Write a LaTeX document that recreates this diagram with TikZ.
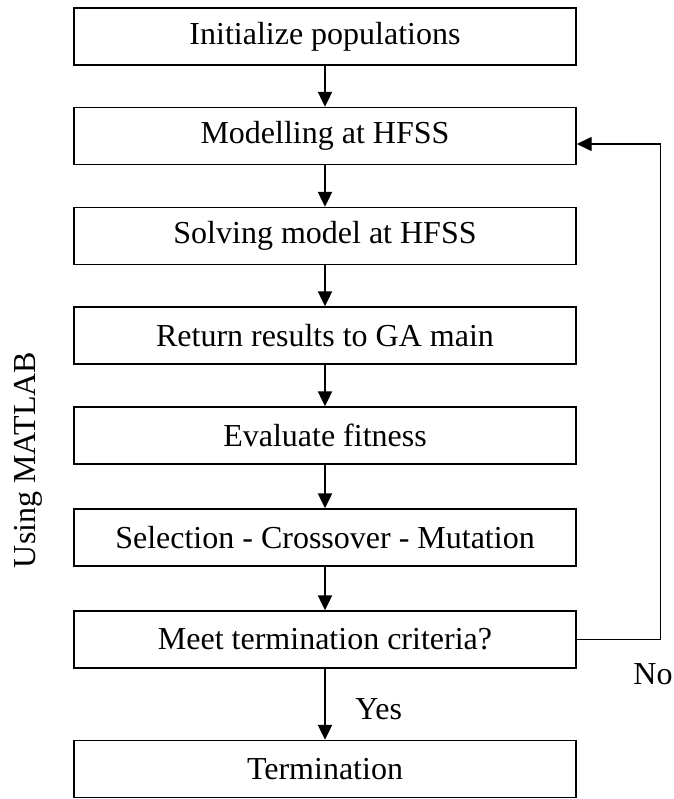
\documentclass[tikz,border=0pt]{standalone}
\usepackage{fontspec}
\setmainfont{Liberation Serif}
\usetikzlibrary{arrows.meta}

\begin{document}
\begin{tikzpicture}[x=1bp, y=-1bp,
        font=\fontsize{32bp}{38bp}\selectfont,
        stage/.style={draw, line width=1.4bp, minimum width=502bp, minimum height=57bp, inner sep=0pt},
        flow/.style={line width=2.2bp, -{Triangle[length=15bp, width=14bp]}}]
        \useasboundingbox (0,0) rectangle (674,799);
        \node[stage] (init) at (325,36.5) {Initialize populations};
        \node[stage] (model) at (325,136) {Modelling at HFSS};
        \node[stage] (solve) at (325,236) {Solving model at HFSS};
        \node[stage] (ret) at (325,335.5) {Return results to GA main};
        \node[stage] (eval) at (325,435.5) {Evaluate fitness};
        \node[stage] (sel) at (325,537.5) {Selection - Crossover - Mutation};
        \node[stage] (meet) at (325,639.5) {Meet termination criteria?};
        \node[stage] (term) at (325,769) {Termination};
        \node[rotate=90] (matlab) at (28,460) {Using MATLAB};
        \draw[flow] (init) -- (model);
        \draw[flow] (model) -- (solve);
        \draw[flow] (solve) -- (ret);
        \draw[flow] (ret) -- (eval);
        \draw[flow] (eval) -- (sel);
        \draw[flow] (sel) -- (meet);
        \draw[flow] (meet) -- (term) node[midway, right, xshift=26bp, yshift=-5bp] (yes) {Yes};
        % loop back when the criteria are not met
        \draw[line width=1.4bp, -{Triangle[length=15bp, width=14bp]}] (meet.east) -- ++(84,0) coordinate (back) |- ([yshift=-8bp]model.east);
        \node (no) at (653,674) {No};
    \end{tikzpicture}
\end{document}
